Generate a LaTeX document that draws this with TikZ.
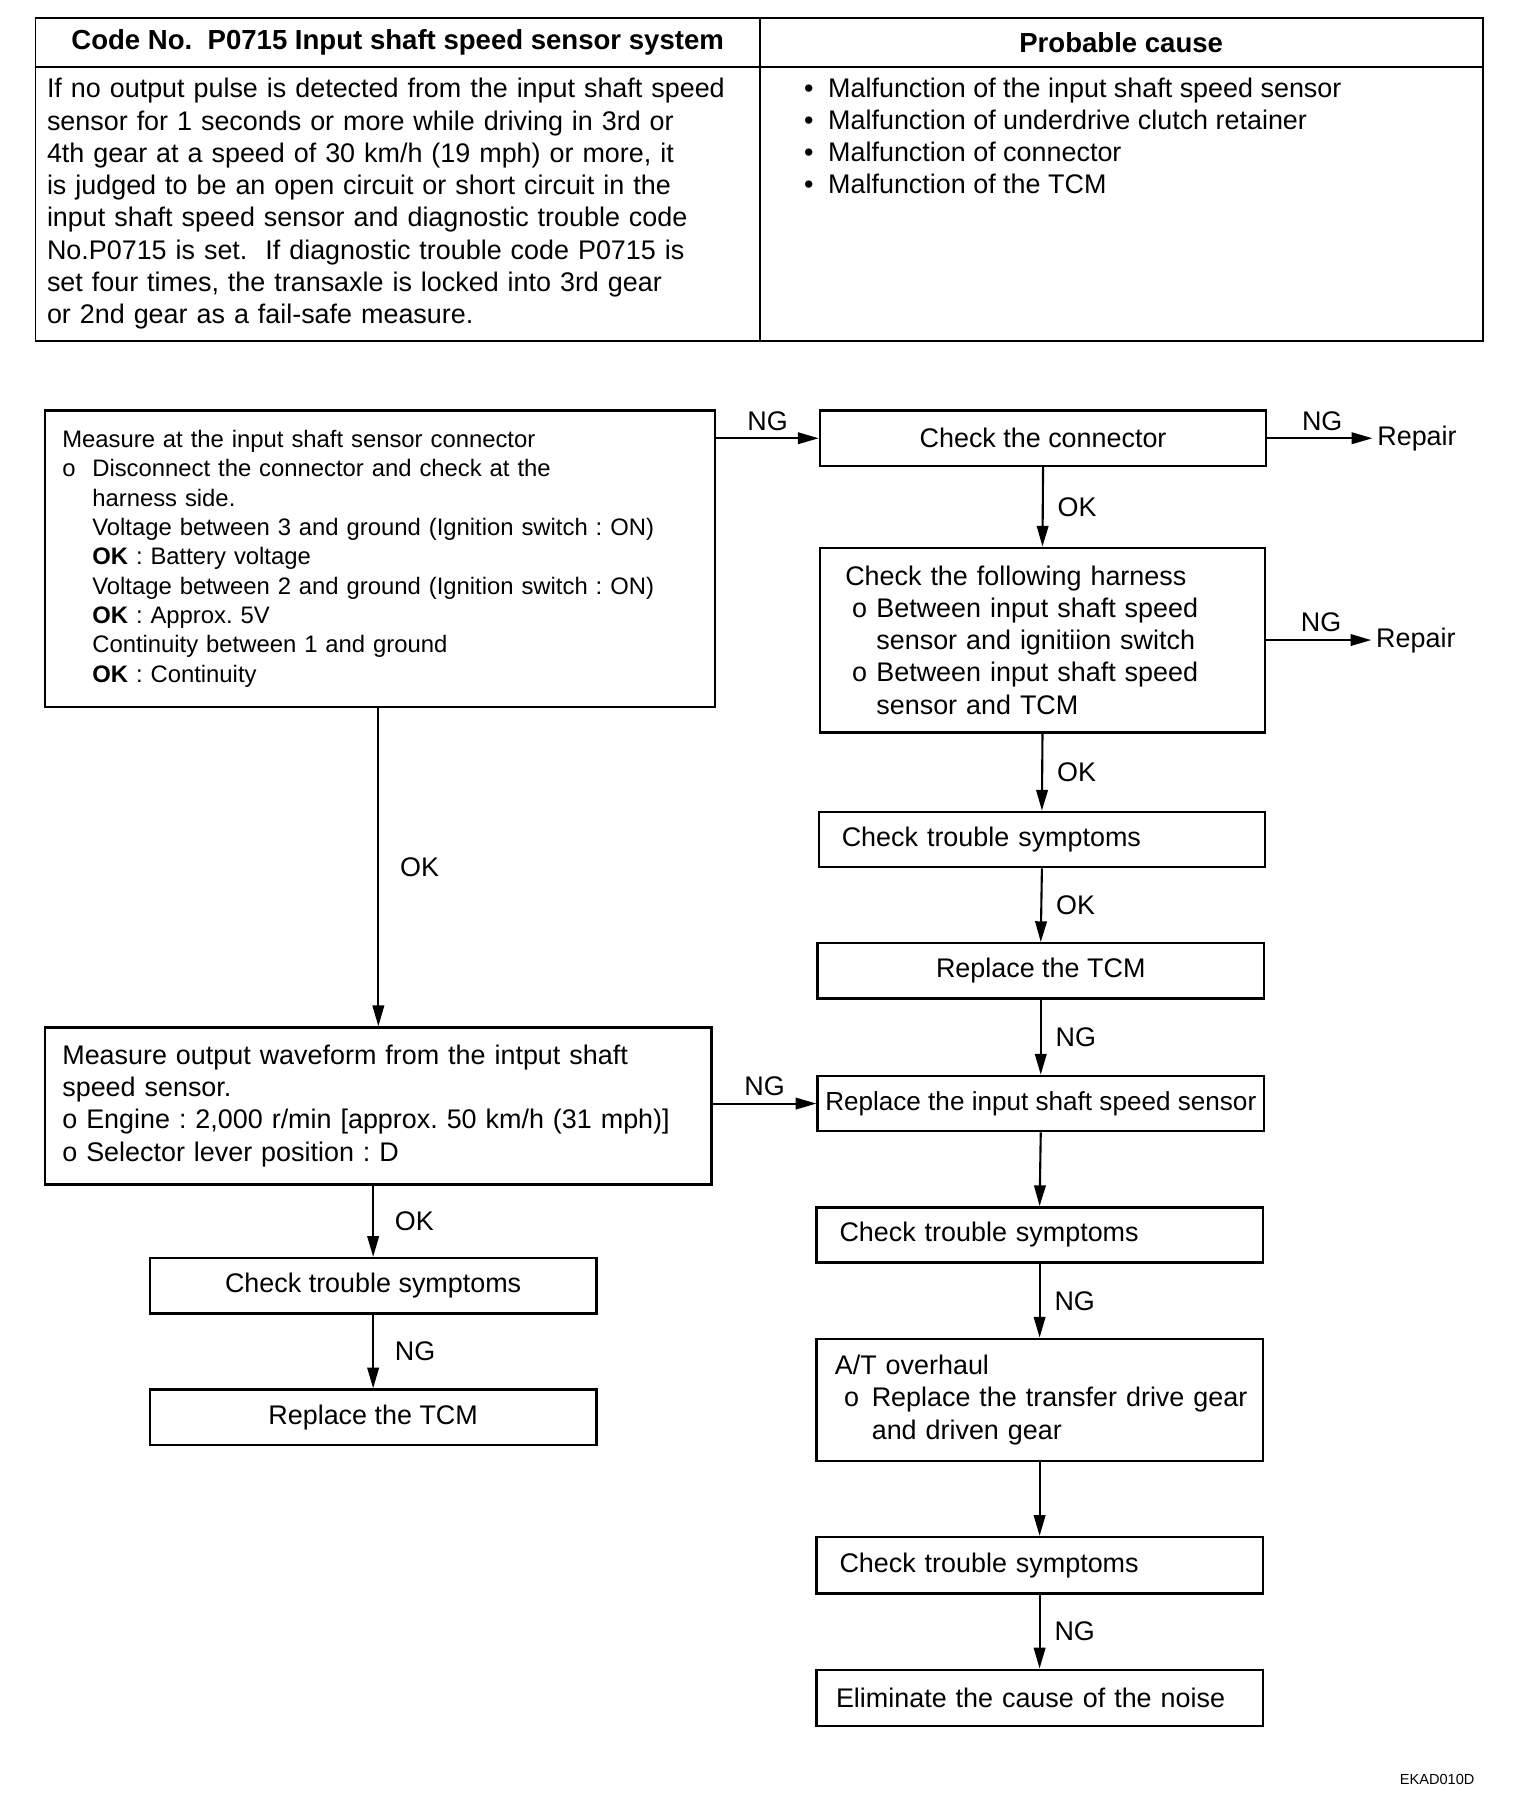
\documentclass[tikz,border=0pt]{standalone}
\usepackage{fontspec}
\setmainfont{Liberation Sans}
\usepackage{tikz}
\usetikzlibrary{arrows.meta, positioning}
\frenchspacing
\newcommand{\flowfont}{\fontsize{16.6pt}{19.9pt}\selectfont}
\newcommand{\headfont}{\fontsize{17pt}{19.9pt}\selectfont\bfseries}
\newcommand{\smallflowfont}{\fontsize{14.7pt}{18.1pt}\selectfont}
\newcommand{\obul}[2]{\hspace*{#1}\makebox[#2][l]{o}}
\newcommand{\oind}[1]{\hspace*{#1}}
\tikzset{
  cell/.style={rectangle, draw=black, line width=1.1pt, anchor=north west, inner sep=0pt},
  box/.style={rectangle, draw=black, line width=1.5pt, anchor=north west, inner xsep=0.5cm, inner ysep=0pt, minimum width=9.675cm, minimum height=1.2cm},
  lbox/.style={box, align=left},
  cbox/.style={box, align=center},
  arrow/.style={line width=1.3pt, -{Triangle[length=0.45cm, width=0.25cm]}},
  lbl/.style={inner sep=0pt}
}

\begin{document}
\begin{tikzpicture}[x=0.025cm, y=-0.025cm, every node/.style={font=\flowfont}]
\useasboundingbox (0,0) rectangle (1318,1568);

% Table
\node[cell, minimum width=15.7cm, minimum height=1.05cm, font=\headfont] (hdrcode) at (30,15) {Code No.\ \ P0715 Input shaft speed sensor system};
\node[cell, minimum width=15.675cm, minimum height=1.05cm, font=\headfont] (hdrcause) at (658,15) {Probable cause};
\node[cell, minimum width=15.7cm, minimum height=5.95cm, align=left, text width=15.2cm, inner xsep=0.25cm] (desc) at (30,57) {If no output pulse is detected from the input shaft speed\\ sensor for 1 seconds or more while driving in 3rd or\\ 4th gear at a speed of 30 km/h (19 mph) or more, it\\ is judged to be an open circuit or short circuit in the\\ input shaft speed sensor and diagnostic trouble code\\ No.P0715 is set.\ \ If diagnostic trouble code P0715 is\\ set four times, the transaxle is locked into 3rd gear\\ or 2nd gear as a fail-safe measure.};
\node[cell, minimum width=15.675cm, minimum height=5.95cm] (cause) at (658,57) {};
\node[anchor=north west, inner sep=0pt, align=left] (causelist) at (697,67) {\makebox[0.525cm][l]{•}Malfunction of the input shaft speed sensor\\ \makebox[0.525cm][l]{•}Malfunction of underdrive clutch retainer\\ \makebox[0.525cm][l]{•}Malfunction of connector\\ \makebox[0.525cm][l]{•}Malfunction of the TCM};

% Left column
\node[lbox, text width=13.775cm, inner xsep=0.375cm, minimum width=14.525cm, minimum height=6.425cm, font=\smallflowfont] (measure) at (38,355) {Measure at the input shaft sensor connector\\ \obul{0cm}{0.65cm}Disconnect the connector and check at the\\ \oind{0.65cm}harness side.\\ \oind{0.65cm}Voltage between 3 and ground (Ignition switch : ON)\\ \oind{0.65cm}\textbf{OK} : Battery voltage\\ \oind{0.65cm}Voltage between 2 and ground (Ignition switch : ON)\\ \oind{0.65cm}\textbf{OK} : Approx. 5V\\ \oind{0.65cm}Continuity between 1 and ground\\ \oind{0.65cm}\textbf{OK} : Continuity};
\node[lbox, text width=13.7cm, inner xsep=0.375cm, minimum width=14.45cm, minimum height=3.4cm] (wave) at (38,890) {Measure output waveform from the intput shaft\\ speed sensor.\\ o Engine : 2,000 r/min [approx. 50 km/h (31 mph)]\\ o Selector lever position : D};
\node[cbox] (symB) at (129,1090) {Check trouble symptoms};
\node[cbox] (tcmB) at (129,1204) {Replace the TCM};

% Right column
\node[cbox] (conn) at (710,355) {Check the connector};
\node[lbox, text width=8.55cm, inner xsep=0.55cm, minimum width=9.65cm, minimum height=4cm] (harness) at (710,474) {Check the following harness\\ \obul{0.15cm}{0.525cm}Between input shaft speed\\ \oind{0.675cm}sensor and ignitiion switch\\ \obul{0.15cm}{0.525cm}Between input shaft speed\\ \oind{0.675cm}sensor and TCM};
\node[lbox, text width=8.675cm] (symA) at (709,703) {Check trouble symptoms};
\node[cbox] (tcmA) at (708,817) {Replace the TCM};
\node[cbox, inner xsep=0cm, font=\fontsize{16.1pt}{19.9pt}\selectfont] (sensor) at (708,932) {Replace the input shaft speed sensor};
\node[lbox, text width=8.675cm] (symC) at (707,1046) {Check trouble symptoms};
\node[lbox, text width=8.875cm, inner xsep=0.4cm, minimum height=2.65cm] (overhaul) at (707,1160) {A/T overhaul\\ \obul{0.2cm}{0.6cm}\mbox{Replace the transfer drive gear}\\ \oind{0.8cm}and driven gear};
\node[lbox, text width=8.675cm, minimum height=1.225cm] (symD) at (707,1332) {Check trouble symptoms};
\node[lbox, text width=8.825cm, inner xsep=0.425cm, minimum height=1.225cm] (noise) at (707,1447) {Eliminate the cause of the noise};

% Repair
\node[lbl, right=2.375cm of conn] (repairA) {Repair};
\node[lbl, right=2.375cm of harness] (repairB) {Repair};

% Arrows
\draw[arrow] (measure.east |- conn.west) -- node[lbl, above=0.15cm] {NG} (conn.west);
\draw[arrow, shorten >=0.1cm] (conn.east) -- node[lbl, above=0.15cm] {NG} (repairA.west);
\draw[arrow, shorten >=0.1cm] (harness.east |- repairB.west) -- node[lbl, above=0.15cm] {NG} (repairB.west);
\draw[arrow] (conn.south) -- node[lbl, right=0.3cm] {OK} (harness.north);
\draw[arrow] (harness.south) -- node[lbl, right=0.3cm] {OK} (symA.north);
\draw[arrow] (symA.south) -- node[lbl, right=0.3cm] {OK} (tcmA.north);
\draw[arrow] (tcmA.south) -- node[lbl, right=0.3cm] {NG} (sensor.north);
\draw[arrow] (sensor.south) -- (symC.north);
\draw[arrow] (symC.south) -- node[lbl, right=0.3cm] {NG} (overhaul.north);
\draw[arrow] (overhaul.south) -- (symD.north);
\draw[arrow] (symD.south) -- node[lbl, right=0.3cm] {NG} (noise.north);
\draw[arrow] (wave.north |- measure.south) -- node[lbl, right=0.45cm] {OK} (wave.north);
\draw[arrow] (wave.east |- sensor.west) -- node[lbl, above=0.15cm] {NG} (sensor.west);
\draw[arrow] (symB.north |- wave.south) -- node[lbl, right=0.45cm] {OK} (symB.north);
\draw[arrow] (symB.south) -- node[lbl, right=0.45cm] {NG} (tcmB.north);

\node[anchor=east, inner sep=0pt, font=\fontsize{9pt}{10pt}\selectfont] (figid) at (1279,1543) {EKAD010D};
\end{tikzpicture}
\end{document}
